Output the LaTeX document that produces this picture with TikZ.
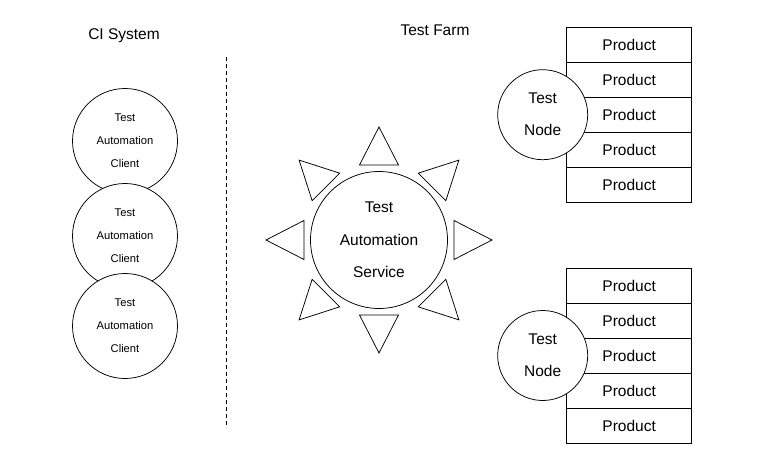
\documentclass[tikz,border=0pt]{standalone}
\usepackage{fontspec}
\setmainfont{Liberation Sans}
\begin{document}
\begin{tikzpicture}[x=1pt,y=-1pt,line width=0.75pt,
  client/.style={circle,draw,fill=white,minimum size=105pt,inner sep=0pt,align=center,font=\fontsize{11.2}{23}\selectfont},
  service/.style={circle,draw,fill=white,minimum size=137pt,inner sep=0pt,align=center,font=\fontsize{15.5}{32.5}\selectfont},
  tnode/.style={circle,draw,fill=white,minimum size=90pt,inner sep=0pt,align=center,font=\fontsize{15.5}{32}\selectfont},
  product/.style={rectangle,draw,fill=white,minimum width=125pt,minimum height=35pt,inner sep=0pt,font=\fontsize{15.5}{18}\selectfont},
  title/.style={font=\fontsize{15.5}{18}\selectfont},
  ray/.style={draw,line width=0.75pt}]
\useasboundingbox (0,0) rectangle (761,471);

\node[title] (ci) at (124,36) {CI System};
\node[title] (farm) at (435,30) {Test Farm};

\coordinate (dtop) at (226,57);
\coordinate (dbot) at (226,428);
\draw[dash pattern=on 4pt off 3pt] (dtop) -- (dbot);

\node[client] (c1) at (125,141) {Test\\Automation\\Client};
\node[client] (c2) at (125,236) {Test\\Automation\\Client};
\node[client] (c3) at (125,326) {Test\\Automation\\Client};

\node[service] (svc) at (379,240) {Test\\Automation\\Service};
\foreach \a in {0,45,...,315}{
  \begin{scope}[shift={(svc.center)},rotate=\a]
    \draw[ray] (75,-19.5) -- (113,0) -- (75,19.5) -- cycle;
  \end{scope}
}

\foreach \i in {0,...,4}{
  \node[product] (pa\i) at (629.2,{44.8+35*\i}) {Product};
}
\node[tnode] (na) at (542.7,114.7) {Test\\Node};

\foreach \i in {0,...,4}{
  \node[product] (pb\i) at (629.2,{285.8+35*\i}) {Product};
}
\node[tnode] (nb) at (542.7,355.5) {Test\\Node};
\end{tikzpicture}
\end{document}
